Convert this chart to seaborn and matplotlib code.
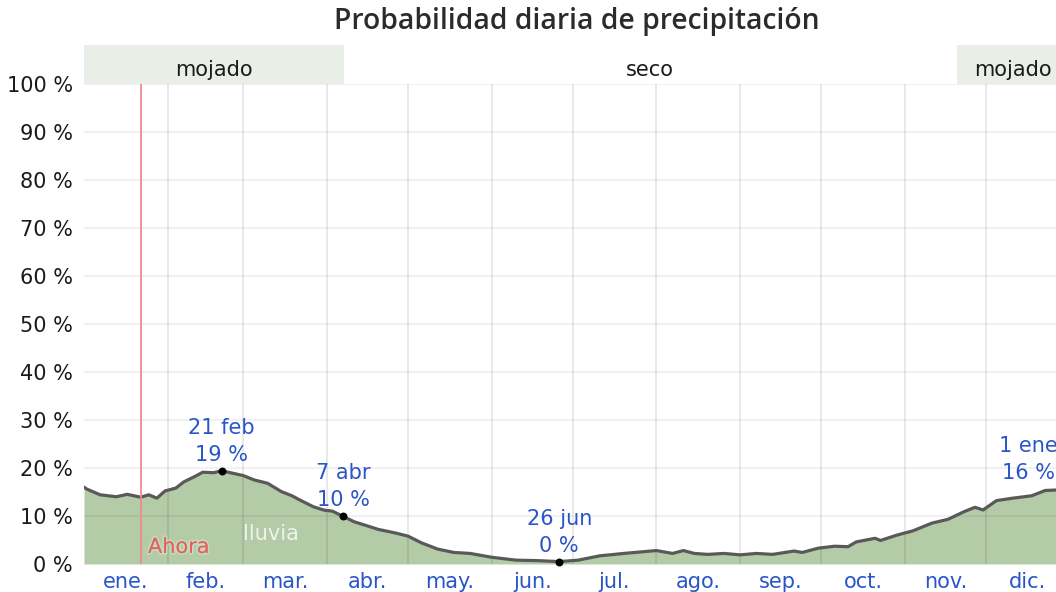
import matplotlib
matplotlib.use("Agg")
import matplotlib.pyplot as plt
import matplotlib.patheffects as pe
import seaborn as sns
import pandas as pd
import numpy as np

# ---------------- data ----------------
days = [0, 1, 6, 12, 16, 21, 24, 27, 30, 34, 37, 41, 44, 48, 51, 55, 59, 63, 68, 73,
        77, 80, 85, 89, 92, 96, 100, 104, 109, 115, 120, 125, 131, 137, 143, 151, 160,
        168, 176, 183, 191, 200, 208, 212, 218, 222, 226, 231, 237, 243, 249, 255, 263,
        266, 272, 278, 283, 286, 293, 295, 301, 307, 314, 320, 326, 330, 333, 338, 344,
        351, 356, 360, 365]
probs = [16.0, 15.6, 14.4, 14.0, 14.5, 13.9, 14.4, 13.7, 15.2, 15.8, 17.1, 18.2, 19.1,
         19.0, 19.4, 18.9, 18.4, 17.5, 16.8, 15.1, 14.2, 13.3, 11.9, 11.2, 11.0, 9.9, 8.8,
         8.1, 7.2, 6.5, 5.8, 4.4, 3.1, 2.4, 2.2, 1.4, 0.8, 0.7, 0.5, 0.8, 1.7, 2.2, 2.6,
         2.8, 2.2, 2.8, 2.2, 2.0, 2.2, 1.9, 2.2, 2.0, 2.7, 2.4, 3.3, 3.7, 3.6, 4.6, 5.35,
         4.9, 6.0, 6.9, 8.5, 9.3, 10.9, 11.8, 11.25, 13.2, 13.7, 14.2, 15.3, 15.4, 15.6]

month_starts = [0, 31, 59, 90, 120, 151, 181, 212, 243, 273, 304, 334, 365]
month_labels = ["ene.", "feb.", "mar.", "abr.", "may.", "jun.", "jul.", "ago.",
                "sep.", "oct.", "nov.", "dic."]
y_ticks = [0, 10, 20, 30, 40, 50, 60, 70, 80, 90, 100]
y_labels = [f"{v} %" for v in y_ticks]

season_bounds = [0, 96.2, 323.2, 365]
season_names = ["mojado", "seco", "mojado"]
season_wet = [True, False, True]

annot_days = [51, 96, 176, 365]
annot_vals = [19.4, 9.9, 0.5, 15.6]
annot_date = ["21 feb", "7 abr", "26 jun", "1 ene"]
annot_pct = ["19 %", "10 %", "0 %", "16 %"]

now_day = 21.2
title = "Probabilidad diaria de precipitación"

df = pd.DataFrame({"day": days, "prob": probs})

# ---------------- style ----------------
sns.set_theme(style="white")
plt.rcParams["font.family"] = ["DejaVu Sans"]

W, H = 1056, 592
fig = plt.figure(figsize=(W / 100, H / 100), dpi=100)

def px_axes(x0, x1, ytop, ybot):
    return [x0 / W, (H - ybot) / H, (x1 - x0) / W, (ybot - ytop) / H]

ax = fig.add_axes(px_axes(84, 1069.5, 83.5, 564))
axb = fig.add_axes(px_axes(84, 1069.5, 45, 83.5), sharex=ax)

fill_c = "#b4cba7"
line_c = "#595959"
blue = "#2a55c8"

# grid lines drawn on top of fill with transparency
ax.fill_between(df["day"], 0, df["prob"], color=fill_c, lw=0, zorder=1)
for v in y_ticks[1:]:
    ax.axhline(v, color="black", alpha=0.055, lw=1.4, zorder=2)
for d in month_starts[1:-1]:
    ax.axvline(d, color="black", alpha=0.09, lw=1.4, zorder=2)

sns.lineplot(data=df, x="day", y="prob", ax=ax, color=line_c, lw=2.3, zorder=4)

# now line
ax.axvline(now_day, color="#f28a8a", lw=1.3, zorder=5)
ax.text(now_day + 2.5, 2.3, "Ahora", color="#e0625a", fontsize=15, va="baseline",
        ha="left", zorder=6,
        path_effects=[pe.withStroke(linewidth=2.5, foreground=(1, 1, 1, 0.25))])
ax.text(69.3, 5.0, "lluvia", color="#eef3eb", fontsize=15, va="baseline", ha="center",
        zorder=6)

# annotations
for d, v, t1, t2 in zip(annot_days, annot_vals, annot_date, annot_pct):
    ax.scatter([d], [v], s=22, color="black", zorder=7, clip_on=False)
    dx = -41 if d >= 360 else 0
    ax.annotate(t2, (d, v), xytext=(dx, 10), textcoords="offset pixels", ha="center",
                va="baseline", color=blue, fontsize=15, annotation_clip=False, zorder=8)
    ax.annotate(t1, (d, v), xytext=(dx, 37), textcoords="offset pixels", ha="center",
                va="baseline", color=blue, fontsize=15, annotation_clip=False, zorder=8)

ax.set_xlim(0, 365)
ax.set_ylim(0, 100)
ax.set_yticks(y_ticks)
ax.set_yticklabels(y_labels)
ax.set_xticks(month_starts[1:-1])
ax.set_xticklabels([])
mids = [(a + b) / 2 for a, b in zip(month_starts[:-1], month_starts[1:])]
ax.set_xticks(mids, minor=True)
ax.set_xticklabels(month_labels, minor=True)
ax.tick_params(axis="x", which="major", length=8, width=1.4, color="#e3e3e3",
               direction="out")
ax.tick_params(axis="x", which="minor", length=0, pad=6, labelsize=15, labelcolor=blue)
ax.tick_params(axis="y", length=0, pad=8, labelsize=15, labelcolor="#1a1a1a")
ax.set_xlabel("")
ax.set_ylabel("")
for s in ax.spines.values():
    s.set_visible(False)

# season band
for (a, b), name, wet in zip(zip(season_bounds[:-1], season_bounds[1:]), season_names,
                             season_wet):
    if wet:
        axb.axvspan(a, b, color="#e9efe6", lw=0)
    axb.text((a + b) / 2, 0.36, name, ha="center", va="center", fontsize=15,
             color="#1a1a1a")
axb.set_ylim(0, 1)
axb.axis("off")

fig.text((84 + 1069.5) / 2 / W, 1 - 22 / H, title, ha="center", va="center",
         fontsize=20.3, fontweight="semibold", color="#2b2b2b",
         family=["Open Sans", "DejaVu Sans"])

fig.savefig("out.png", dpi=100)
